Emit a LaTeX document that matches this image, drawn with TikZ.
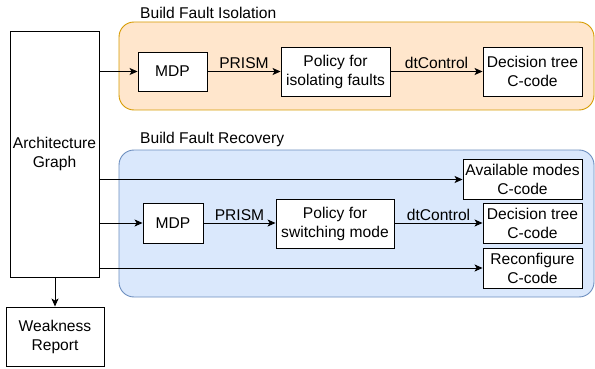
\documentclass[tikz,border=0pt]{standalone}
\usepackage{fontspec}
\setmainfont{Liberation Sans}
\usetikzlibrary{arrows.meta}
\definecolor{isoFill}{HTML}{FFE6CC}
\definecolor{isoLine}{HTML}{D79B00}
\definecolor{recFill}{HTML}{DAE8FC}
\definecolor{recLine}{HTML}{6C8EBF}
\begin{document}
\begin{tikzpicture}[x=1pt,y=-1pt,
  every node/.style={font=\fontsize{15.6}{19}\selectfont},
  blk/.style={draw=black,fill=white,line width=0.9pt,align=center,inner sep=0pt},
  grp/.style={line width=0.9pt,rounded corners=15pt},
  flow/.style={draw=black,line width=0.9pt,-{Stealth[length=8pt,width=7pt,inset=2pt]}},
  lbl/.style={above,inner sep=2pt},
  ttl/.style={anchor=west,inner sep=0pt}]
\useasboundingbox (0,0) rectangle (595,369);

% group backgrounds
\draw[grp,fill=isoFill,draw=isoLine] (119,22) rectangle (594,110);
\draw[grp,fill=recFill,draw=recLine] (119,150) rectangle (594,297);
\node[ttl] (tIso) at (140,13) {Build Fault Isolation};
\node[ttl] (tRec) at (140,139) {Build Fault Recovery};

% blocks
\node[blk,minimum width=89pt,minimum height=246pt] (arch) at (54.5,154) {Architecture\\Graph};
\node[blk,minimum width=98pt,minimum height=59pt] (weak) at (55,336.5) {Weakness\\Report};

\node[blk,minimum width=69pt,minimum height=39pt] (mdpA) at (172.5,71.5) {MDP};
\node[blk,minimum width=109pt,minimum height=49pt] (polA) at (335.5,71.5) {Policy for\\isolating faults};
\node[blk,minimum width=99pt,minimum height=49pt] (dtA) at (532.5,71.5) {Decision tree\\C-code};

\node[blk,minimum width=119pt,minimum height=40pt] (avail) at (522.5,179.5) {Available modes\\C-code};
\node[blk,minimum width=60pt,minimum height=40pt] (mdpB) at (173,223) {MDP};
\node[blk,minimum width=118pt,minimum height=49pt] (polB) at (335,223.5) {Policy for\\switching mode};
\node[blk,minimum width=99pt,minimum height=40pt] (dtB) at (532.5,223) {Decision tree\\C-code};
\node[blk,minimum width=99pt,minimum height=40pt] (reconf) at (532.5,268) {Reconfigure\\C-code};

% connectors
\draw[flow] (arch.east |- mdpA.west) -- (mdpA.west);
\draw[flow] (mdpA.east) -- node[lbl] {PRISM} (polA.west);
\draw[flow] (polA.east) -- node[lbl] {dtControl} (dtA.west);

\draw[flow] (arch.east |- avail.west) -- (avail.west);
\draw[flow] (arch.east |- mdpB.west) -- (mdpB.west);
\draw[flow] (mdpB.east) -- node[lbl] {PRISM} (polB.west |- mdpB.east);
\draw[flow] (polB.east |- dtB.west) -- node[lbl] {dtControl} (dtB.west);
\draw[flow] (arch.east |- reconf.west) -- (reconf.west);

\draw[flow] (arch.south -| weak.north) -- (weak.north);
\end{tikzpicture}
\end{document}
